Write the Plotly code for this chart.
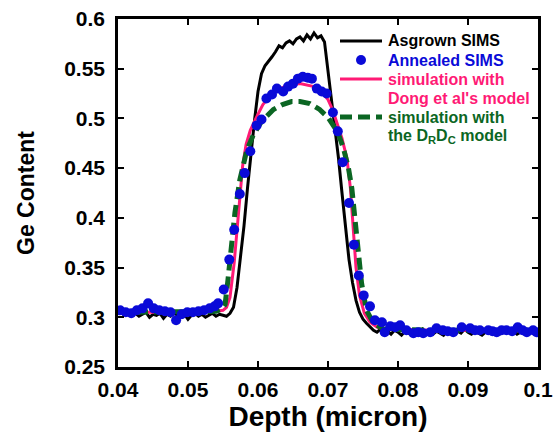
import plotly.graph_objects as go

# ---------------- data ----------------
depth_asgrown = [
    0.0400, 0.0405, 0.0410, 0.0415, 0.0420, 0.0425, 0.0430, 0.0435, 0.0440, 0.0445,
    0.0450, 0.0455, 0.0460, 0.0465, 0.0470, 0.0475, 0.0480, 0.0485, 0.0490, 0.0495,
    0.0500, 0.0505, 0.0510, 0.0515, 0.0520, 0.0525, 0.0530, 0.0535, 0.0540, 0.0545,
    0.0550, 0.0555, 0.0560, 0.0565, 0.0570, 0.0575, 0.0580, 0.0585, 0.0590, 0.0595,
    0.0600, 0.0605, 0.0610, 0.0615, 0.0620, 0.0625, 0.0630, 0.0635, 0.0640, 0.0645,
    0.0650, 0.0655, 0.0660, 0.0665, 0.0670, 0.0675, 0.0680, 0.0685, 0.0690, 0.0695,
    0.0700, 0.0705, 0.0710, 0.0715, 0.0720, 0.0725, 0.0730, 0.0735, 0.0740, 0.0745,
    0.0750, 0.0755, 0.0760, 0.0765, 0.0770, 0.0775, 0.0780, 0.0785, 0.0790, 0.0795,
    0.0800, 0.0805, 0.0810, 0.0815, 0.0820, 0.0825, 0.0830, 0.0835, 0.0840, 0.0845,
    0.0850, 0.0855, 0.0860, 0.0865, 0.0870, 0.0875, 0.0880, 0.0885, 0.0890, 0.0895,
    0.0900, 0.0905, 0.0910, 0.0915, 0.0920, 0.0925, 0.0930, 0.0935, 0.0940, 0.0945,
    0.0950, 0.0955, 0.0960, 0.0965, 0.0970, 0.0975, 0.0980, 0.0985, 0.0990, 0.0995,
    0.1000,
]
ge_asgrown = [
    0.306, 0.304, 0.303, 0.305, 0.302, 0.304, 0.301, 0.303, 0.305, 0.300,
    0.303, 0.302, 0.304, 0.299, 0.303, 0.301, 0.304, 0.302, 0.300, 0.303,
    0.298, 0.302, 0.304, 0.301, 0.303, 0.300, 0.302, 0.304, 0.301, 0.303,
    0.302, 0.301, 0.304, 0.310, 0.330, 0.358, 0.392, 0.430, 0.466, 0.498,
    0.527, 0.545, 0.553, 0.557, 0.562, 0.567, 0.573, 0.571, 0.576, 0.578,
    0.575, 0.580, 0.582, 0.578, 0.584, 0.580, 0.586, 0.581, 0.583, 0.577,
    0.548, 0.515, 0.488, 0.460, 0.425, 0.388, 0.358, 0.335, 0.317, 0.305,
    0.298, 0.294, 0.290, 0.287, 0.285, 0.288, 0.284, 0.286, 0.283, 0.287,
    0.285, 0.282, 0.286, 0.284, 0.287, 0.283, 0.285, 0.288, 0.284, 0.286,
    0.283, 0.286, 0.284, 0.282, 0.287, 0.285, 0.283, 0.286, 0.284, 0.288,
    0.285, 0.283, 0.286, 0.284, 0.282, 0.285, 0.287, 0.284, 0.286, 0.283,
    0.285, 0.288, 0.284, 0.286, 0.283, 0.285, 0.287, 0.284, 0.286, 0.285,
    0.284,
]

depth_annealed = [
    0.0403, 0.0411, 0.0419, 0.0427, 0.0435, 0.0443, 0.0451, 0.0459, 0.0467, 0.0475,
    0.0483, 0.0491, 0.0499, 0.0507, 0.0515, 0.0523, 0.0531, 0.0538, 0.0543, 0.0551,
    0.0559, 0.0566, 0.0574, 0.0581, 0.0589, 0.0598, 0.0605, 0.0612, 0.0620, 0.0627,
    0.0636, 0.0643, 0.0650, 0.0657, 0.0664, 0.0671, 0.0677, 0.0684, 0.0691, 0.0698,
    0.0707, 0.0714, 0.0721, 0.0730, 0.0737, 0.0744, 0.0751, 0.0760, 0.0767, 0.0777,
    0.0781, 0.0789, 0.0796, 0.0803, 0.0812, 0.0822, 0.0829, 0.0836, 0.0846, 0.0855,
    0.0864, 0.0871, 0.0879, 0.0891, 0.0903, 0.0910, 0.0917, 0.0929, 0.0935, 0.0941,
    0.0948, 0.0955, 0.0963, 0.0971, 0.0978, 0.0984, 0.0993, 0.0998,
]
ge_annealed = [
    0.307, 0.305, 0.304, 0.307, 0.309, 0.314, 0.309, 0.307, 0.306, 0.305,
    0.297, 0.303, 0.305, 0.305, 0.306, 0.307, 0.309, 0.311, 0.314, 0.328,
    0.358, 0.388, 0.424, 0.445, 0.467, 0.493, 0.499, 0.520, 0.524, 0.530,
    0.527, 0.532, 0.535, 0.540, 0.542, 0.541, 0.540, 0.530, 0.527, 0.525,
    0.506, 0.487, 0.456, 0.415, 0.373, 0.342, 0.322, 0.311, 0.297, 0.295,
    0.285, 0.291, 0.290, 0.292, 0.287, 0.284, 0.285, 0.284, 0.285, 0.289,
    0.287, 0.286, 0.285, 0.290, 0.289, 0.287, 0.287, 0.287, 0.286, 0.285,
    0.287, 0.287, 0.286, 0.290, 0.287, 0.285, 0.287, 0.285,
]

depth_dong = [
    0.0400, 0.0500, 0.0540, 0.0550, 0.0555, 0.0560, 0.0566, 0.0572, 0.0578, 0.0583,
    0.0589, 0.0597, 0.0607, 0.0620, 0.0640, 0.0660, 0.0680, 0.0690, 0.0700, 0.0707,
    0.0713, 0.0720, 0.0727, 0.0732, 0.0736, 0.0740, 0.0745, 0.0752, 0.0760, 0.0770,
    0.0780, 0.0850, 0.1000,
]
ge_dong = [
    0.305, 0.305, 0.306, 0.307, 0.310, 0.320, 0.355, 0.405, 0.452, 0.474,
    0.488, 0.500, 0.514, 0.525, 0.533, 0.535, 0.532, 0.527, 0.519, 0.508,
    0.495, 0.480, 0.460, 0.430, 0.390, 0.350, 0.322, 0.304, 0.295, 0.290,
    0.288, 0.287, 0.287,
]

depth_drdc = [
    0.0400, 0.0540, 0.0548, 0.0553, 0.0557, 0.0562, 0.0567, 0.0574, 0.0584, 0.0593,
    0.0605, 0.0622, 0.0635, 0.0648, 0.0660, 0.0674, 0.0688, 0.0700, 0.0714, 0.0722,
    0.0729, 0.0734, 0.0737, 0.0743, 0.0748, 0.0755, 0.0765, 0.0780, 0.0850, 0.1000,
]
ge_drdc = [
    0.305, 0.306, 0.308, 0.313, 0.337, 0.371, 0.405, 0.438, 0.468, 0.483,
    0.497, 0.509, 0.514, 0.517, 0.517, 0.515, 0.509, 0.501, 0.486, 0.470,
    0.451, 0.430, 0.411, 0.371, 0.334, 0.307, 0.294, 0.288, 0.287, 0.287,
]

x_ticks = [0.04, 0.05, 0.06, 0.07, 0.08, 0.09, 0.10]
x_ticktext = ["0.04", "0.05", "0.06", "0.07", "0.08", "0.09", "0.1"]
y_ticks = [0.25, 0.30, 0.35, 0.40, 0.45, 0.50, 0.55, 0.60]
y_ticktext = ["0.25", "0.3", "0.35", "0.4", "0.45", "0.5", "0.55", "0.6"]

series_names = ["Asgrown SIMS", "Annealed SIMS",
                "simulation with", "Dong et al's model",
                "simulation with", "the D<sub>R</sub>D<sub>C</sub> model"]

BLACK = "#000000"
BLUE = "#0a0ad8"
PINK = "#ff1a75"
GREEN = "#0b6623"
FONT = "Arial, Liberation Sans, sans-serif"

fig = go.Figure()
fig.add_trace(go.Scatter(
    x=depth_asgrown, y=ge_asgrown, mode="lines",
    line=dict(color=BLACK, width=3), name="Asgrown SIMS",
))
fig.add_trace(go.Scatter(
    x=depth_dong, y=ge_dong, mode="lines",
    line=dict(color=PINK, width=3), name="simulation with Dong et al's model",
))
fig.add_trace(go.Scatter(
    x=depth_drdc, y=ge_drdc, mode="lines",
    line=dict(color=GREEN, width=5, dash="12px,6px"),
    name="simulation with the DRDC model",
))
fig.add_trace(go.Scatter(
    x=depth_annealed, y=ge_annealed, mode="markers",
    marker=dict(color=BLUE, size=10, line=dict(width=0)),
    name="Annealed SIMS",
))

axis_common = dict(
    showline=True, linecolor="black", linewidth=2.5, mirror="ticks",
    ticks="inside", ticklen=6, tickwidth=2, tickcolor="black",
    showgrid=False, zeroline=False, automargin=False,
    tickfont=dict(family=FONT, size=21, color="black", weight="bold"),
)

fig.update_xaxes(
    range=[0.04, 0.1], tickvals=x_ticks, ticktext=x_ticktext,
    ticklabelstandoff=2,
    title=dict(text="Depth (micron)", font=dict(family=FONT, size=28, color="black", weight="bold"), standoff=4),
    **axis_common,
)
fig.update_yaxes(
    range=[0.25, 0.6], tickvals=y_ticks, ticktext=y_ticktext,
    ticklabelstandoff=6,
    title=dict(text="Ge Content", font=dict(family=FONT, size=23, color="black", weight="bold"), standoff=24),
    **axis_common,
)

# ---------------- hand-drawn legend (layout only) ----------------
def px_x(px):
    return (px - 118) / 420.0

def px_y(py):
    return (367 - py) / 348.0

legend_font = dict(family=FONT, size=16, weight="bold")
row_y = [41, 60, 79, 98, 117, 136]
row_colors = [BLACK, BLUE, PINK, PINK, GREEN, GREEN]
annotations = []
for name, ry, col in zip(series_names, row_y, row_colors):
    annotations.append(dict(
        text=name, xref="paper", yref="paper", x=px_x(386), y=px_y(ry),
        xanchor="left", yanchor="middle", showarrow=False,
        font=dict(color=col, **legend_font),
    ))

shapes = [
    dict(type="line", xref="paper", yref="paper", x0=px_x(340), x1=px_x(382),
         y0=px_y(41), y1=px_y(41), line=dict(color=BLACK, width=3)),
    dict(type="circle", xref="paper", yref="paper", xsizemode="pixel", ysizemode="pixel",
         xanchor=px_x(361), yanchor=px_y(60), x0=-5, x1=5, y0=-5, y1=5,
         fillcolor=BLUE, line=dict(width=0)),
    dict(type="line", xref="paper", yref="paper", x0=px_x(340), x1=px_x(382),
         y0=px_y(79), y1=px_y(79), line=dict(color=PINK, width=3)),
    dict(type="line", xref="paper", yref="paper", x0=px_x(340), x1=px_x(382),
         y0=px_y(117), y1=px_y(117), line=dict(color=GREEN, width=5, dash="12px,6px")),
]

fig.update_layout(
    width=555, height=434,
    margin=dict(l=118, r=17, t=19, b=67),
    plot_bgcolor="white", paper_bgcolor="white",
    showlegend=False,
    annotations=annotations,
    shapes=shapes,
)

fig.write_html("out.html")
